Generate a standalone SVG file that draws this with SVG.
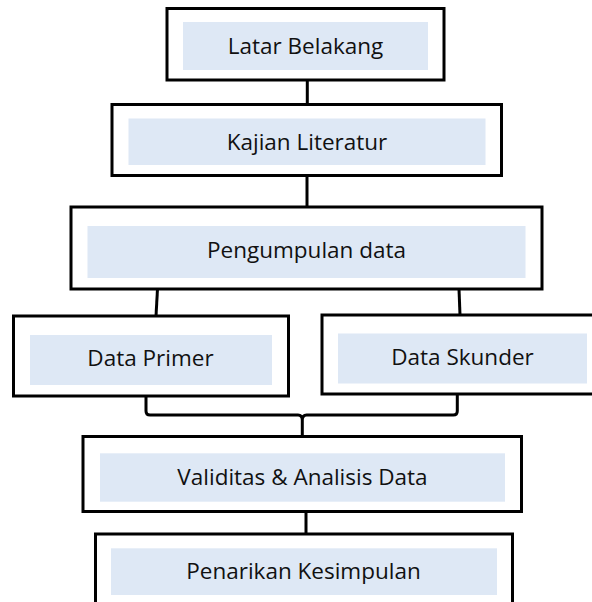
<svg xmlns="http://www.w3.org/2000/svg" width="592" height="602" viewBox="0 0 592 602">
<style>
.outer{fill:#ffffff;stroke:#000000;stroke-width:3}
.inner{fill:#DEE8F5;stroke:none}
.lbl{font-family:"Open Sans","Noto Sans",sans-serif;font-size:22.5px;fill:#111111;text-anchor:middle}
.conn{fill:none;stroke:#000000;stroke-width:3}
</style>
<rect width="592" height="602" fill="#ffffff"/>
<g id="connectors">
<line class="conn" x1="307.3" y1="80" x2="307.3" y2="105"/>
<line class="conn" x1="307" y1="175" x2="307" y2="207"/>
<line class="conn" x1="157.5" y1="289" x2="156" y2="316"/>
<line class="conn" x1="459" y1="289" x2="460" y2="315"/>
<path class="conn" stroke-width="2.6" d="M146,396 V411 Q146,415 150,415 H298 Q302.3,415 302.3,420 V436 M302.3,420 Q302.3,415 306.6,415 H453.3 Q457.3,415 457.3,411 V394"/>
<line class="conn" x1="306" y1="511" x2="306" y2="534"/>
</g>
<g id="n1">
<rect class="outer" x="167" y="8.5" width="277" height="71.5"/>
<rect class="inner" x="183" y="22" width="245" height="48"/>
<text class="lbl" x="305.5" y="54">Latar Belakang</text>
</g>
<g id="n2">
<rect class="outer" x="112" y="104.5" width="389.5" height="71"/>
<rect class="inner" x="128.5" y="118.5" width="357" height="46.5"/>
<text class="lbl" x="307" y="149.5">Kajian Literatur</text>
</g>
<g id="n3">
<rect class="outer" x="71" y="207" width="471" height="82"/>
<rect class="inner" x="87.5" y="226" width="438" height="52"/>
<text class="lbl" x="306.5" y="258">Pengumpulan data</text>
</g>
<g id="n4">
<rect class="outer" x="13.5" y="316" width="275" height="80"/>
<rect class="inner" x="30" y="335" width="242" height="50"/>
<text class="lbl" x="150.5" y="366">Data Primer</text>
</g>
<g id="n5">
<rect class="outer" x="322" y="315" width="282" height="79"/>
<rect class="inner" x="338" y="333.5" width="249" height="50"/>
<text class="lbl" x="462.5" y="365">Data Skunder</text>
</g>
<g id="n6">
<rect class="outer" x="83" y="436.5" width="438.5" height="75"/>
<rect class="inner" x="100" y="453.3" width="405" height="48.4"/>
<text class="lbl" x="302.5" y="485">Validitas &amp; Analisis Data</text>
</g>
<g id="n7">
<rect class="outer" x="95.5" y="534" width="417" height="80"/>
<rect class="inner" x="111" y="548.3" width="386" height="46.7"/>
<text class="lbl" x="303.5" y="579">Penarikan Kesimpulan</text>
</g>
</svg>
